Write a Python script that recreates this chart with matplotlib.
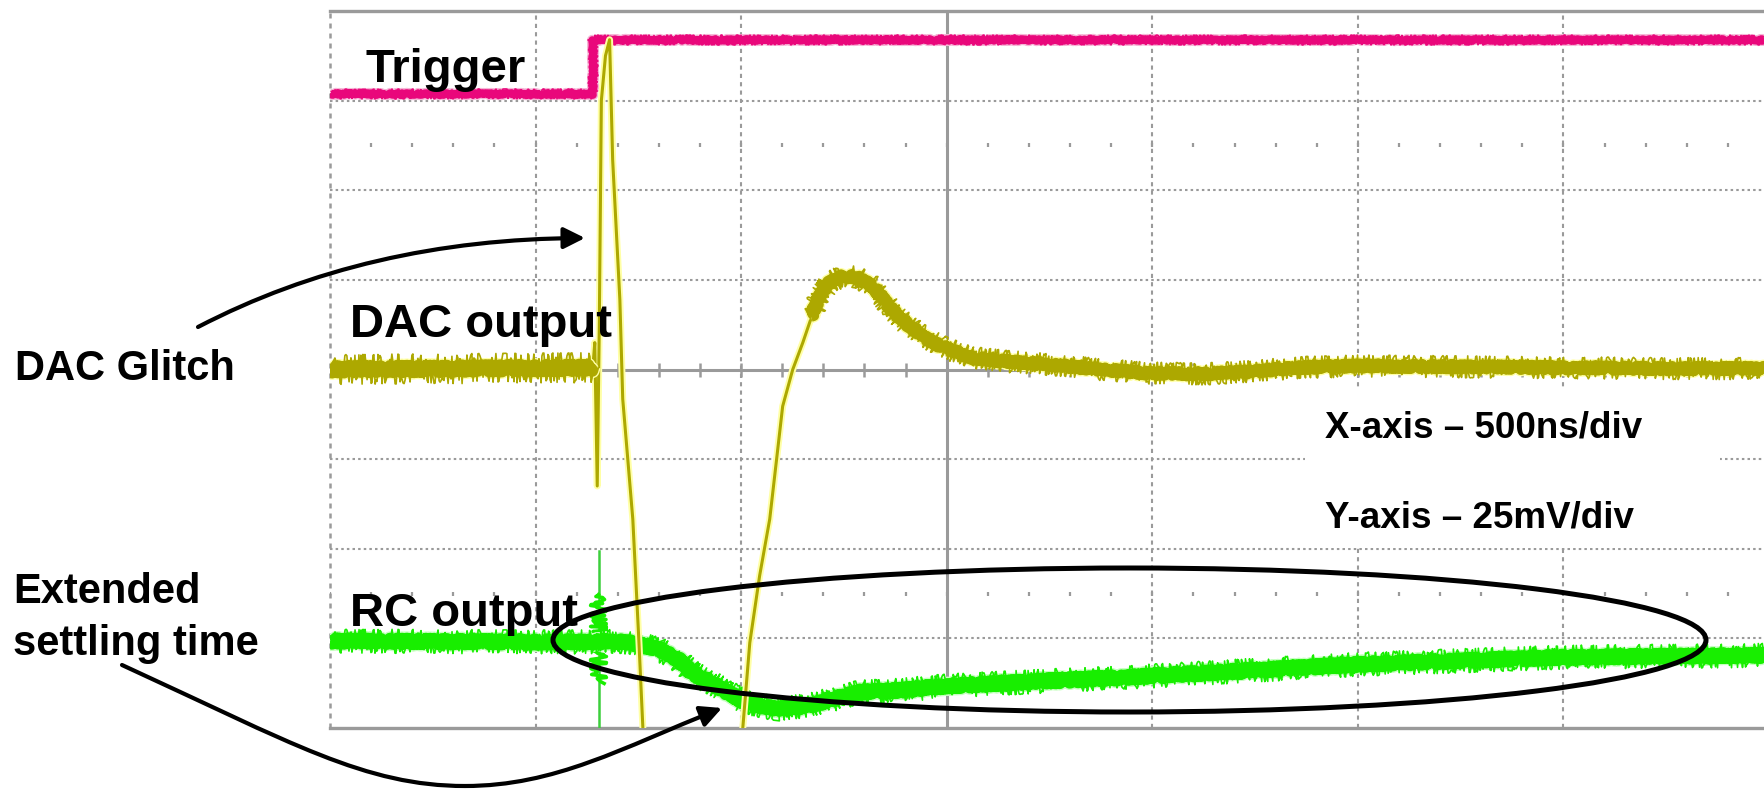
import matplotlib.pyplot as plt
import numpy as np
import matplotlib.patheffects as pe
from matplotlib.patches import Ellipse, FancyArrowPatch, Rectangle
from matplotlib.path import Path
from matplotlib.transforms import Affine2D

plt.rcParams['font.family'] = ['Liberation Sans', 'DejaVu Sans']

# scope traces in screen divisions (x: 500 ns/div, y: 25 mV/div), centre of screen = (0, 0)
trig_t = [-3.0, -1.72, -1.72, 4.0]
trig_v = [3.07, 3.07, 3.68, 3.68]

dac_pre_t = [-3.0, -1.72]
dac_pre_v = [0.0, 0.02]

dac_glitch_t = [-1.722, -1.712, -1.700, -1.690, -1.680, -1.660, -1.640, -1.625, -1.590,
                -1.576, -1.527, -1.497, -1.478, -1.44, -1.40, -1.05, -1.02, -0.992,
                -0.958, -0.910, -0.861, -0.798, -0.749, -0.700, -0.657, -0.618]
dac_glitch_v = [0.0, 0.3, -1.30, 0.5, 3.0, 3.50, 3.68, 2.34, 0.78,
                -0.33, -1.67, -3.05, -4.0, -5.0, -5.5, -5.5, -5.0, -4.0,
                -3.05, -2.3, -1.67, -0.41, 0.0, 0.30, 0.59, 0.81]

dac_post_t = [-0.66, -0.62, -0.57, -0.51, -0.44, -0.36, -0.28, -0.20, -0.12, -0.03, 0.05,
              0.13, 0.29, 0.53, 0.75, 0.98, 1.25, 1.5, 1.7, 2.0, 2.5, 3.0, 3.5, 4.0]
dac_post_v = [0.59, 0.81, 0.97, 1.04, 1.03, 0.93, 0.70, 0.52, 0.37, 0.26, 0.19,
              0.13, 0.09, 0.05, 0.0, -0.04, -0.05, -0.02, 0.02, 0.04, 0.03, 0.02, 0.01, 0.01]

rc_t = [-3.0, -2.0, -1.72, -1.60, -1.51, -1.40, -1.31, -1.24, -1.15, -1.07, -0.99,
        -0.83, -0.67, -0.51, -0.42, -0.23, 0.0, 1.0, 2.0, 3.0, 4.0]
rc_v = [-3.03, -3.04, -3.04, -3.03, -3.06, -3.12, -3.23, -3.38, -3.49, -3.60, -3.70,
        -3.79, -3.75, -3.65, -3.60, -3.58, -3.53, -3.42, -3.29, -3.21, -3.19]

rc_spike_t = [-1.69, -1.69]
rc_spike_v = [-2.03, -4.2]
rc_burst_t = [-1.695, -1.695]
rc_burst_v = [-2.50, -3.50]

W, H = 1764, 790
fig = plt.figure(figsize=(W / 100, H / 100), dpi=100)
fig.patch.set_facecolor('white')
ax = fig.add_axes([330 / W, (H - 728) / H, (1769 - 330) / W, (728 - 11) / H])
ax.set_xlim(-3, 4)
ax.set_ylim(-4, 4)
ax.set_axis_off()

# graticule
gc = '#9a9a9a'
for x in [-2, -1, 1, 2, 3]:
    ax.axvline(x, color=gc, lw=1.5, ls=(0, (2.0, 2.0)), zorder=1)
for y in [-3, -2, -1, 1, 2, 3]:
    ax.axhline(y, color=gc, lw=1.5, ls=(0, (1.2, 1.5)), zorder=1)
ax.axvline(0, color=gc, lw=2.2, zorder=1)
ax.axhline(0, color=gc, lw=2.2, zorder=1)
ax.axhline(4, color=gc, lw=2.4, zorder=1, clip_on=False)
ax.axhline(-4, color=gc, lw=2.4, zorder=1, clip_on=False)
ax.axvline(-3, color=gc, lw=1.8, ls=(0, (2.0, 2.0)), zorder=1, clip_on=False)
minor = np.arange(-3, 4.01, 0.2)
ax.plot(minor, 0 * minor, ls='none', marker='|', ms=10, mew=1.8, color=gc, zorder=1)
for yr in [2.5, -2.5]:
    ax.plot(minor, 0 * minor + yr, ls='none', marker='|', ms=3.5, mew=1.6, color=gc, zorder=1)

# traces
magenta = '#E9077B'
yellow = '#ADA800'
green = '#18EE00'


def trace(t, v, color, halo, lw, core_noise, spike_noise, z=3):
    # solid core of the trace plus a thin jagged overlay for the scope noise
    core = ax.plot(t, v, color=color, lw=lw, zorder=z, solid_capstyle='butt',
                   path_effects=[pe.Stroke(linewidth=lw + 2, foreground=halo), pe.Normal()])[0]
    core.set_sketch_params(core_noise, 3.0, 4.0)
    spikes = ax.plot(t, v, color=color, lw=1.2, zorder=z, solid_capstyle='butt')[0]
    spikes.set_sketch_params(spike_noise, 2.0, 30.0)


trace(trig_t, trig_v, magenta, '#F6B6D6', 5.5, 1.0, 5.0)

ax.plot(dac_glitch_t, dac_glitch_v, color=yellow, lw=2.2, zorder=3,
        path_effects=[pe.Stroke(linewidth=5, foreground='#FFFFA6'), pe.Normal()])
trace(dac_pre_t, dac_pre_v, yellow, '#FFFFA6', 9.0, 3.0, 15.0)
trace(dac_post_t, dac_post_v, yellow, '#FFFFA6', 7.5, 2.5, 11.0)

ax.plot(rc_spike_t, rc_spike_v, color='#3ccf3c', lw=1.8, zorder=2.5)
burst = ax.plot(rc_burst_t, rc_burst_v, color=green, lw=2.5, zorder=2.6)[0]
burst.set_sketch_params(8, 2.0, 30.0)
trace(rc_t, rc_v, green, '#C6FFC0', 9.0, 2.5, 12.0, z=2.6)

# annotations, positioned in reference-image pixels
px = Affine2D().scale(1 / W, -1 / H).translate(0, 1) + fig.transFigure

fig.add_artist(Rectangle((1305, 390), 415, 158, facecolor='white', edgecolor='none',
                         transform=px, zorder=1))

fig.add_artist(Ellipse((1129.5, 640), 1153, 144, fill=False, lw=3.6, ec='black',
                       transform=px, zorder=5))

glitch_path = Path([(198, 327), (367, 239), (585, 238)],
                   [Path.MOVETO, Path.CURVE3, Path.CURVE3])
settle_path = Path([(122, 665), (292, 743), (365, 786), (465, 786),
                    (555, 786), (622, 748), (722, 708)],
                   [Path.MOVETO] + [Path.CURVE4] * 6)
for p in [glitch_path, settle_path]:
    fig.add_artist(FancyArrowPatch(path=p, arrowstyle='-|>,head_length=0.4,head_width=0.2',
                                   mutation_scale=32, lw=3, color='black',
                                   transform=px, zorder=5))

labels = [
    ('Trigger', 365, 82, 34),
    ('DAC output', 350, 337, 34),
    ('RC output', 350, 626, 34),
    ('DAC Glitch', 15, 380, 30),
    ('Extended', 13, 603, 30),
    ('settling time', 13, 655, 30),
    ('X-axis \u2013 500ns/div', 1325, 438, 26.5),
    ('Y-axis \u2013 25mV/div', 1325, 528, 26.5),
]
for s, x, y, fs in labels:
    fig.text(x / W, 1 - y / H, s, fontsize=fs, fontweight='bold', color='black',
             ha='left', va='baseline', zorder=6)

fig.savefig('out.png', dpi=100, facecolor='white')
